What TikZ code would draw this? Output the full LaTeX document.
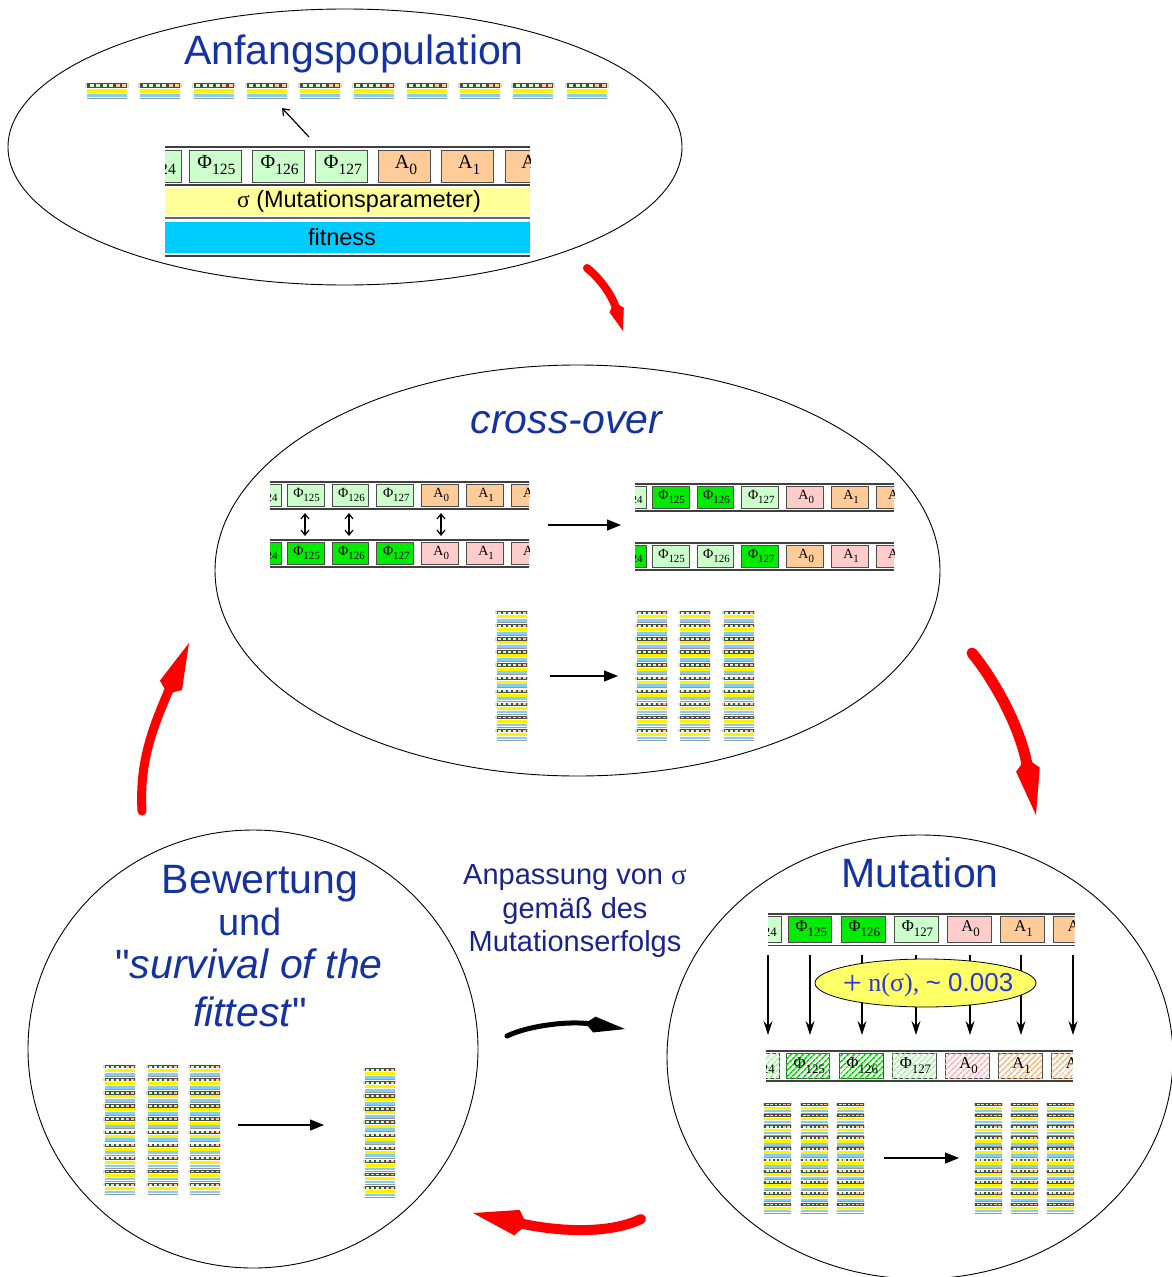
\documentclass[tikz,border=0pt]{standalone}
\usepackage{fontspec}
\setmainfont{Liberation Serif}
\setsansfont{Liberation Sans}
\newfontfamily\qsans{Liberation Sans}[Ligatures=TeXOff]
\usetikzlibrary{arrows.meta, shapes.geometric, patterns.meta}

\definecolor{tblue}{RGB}{20,50,160}
\definecolor{nblue}{RGB}{25,35,140}
\definecolor{sblue}{RGB}{45,55,215}
\definecolor{lgreen}{RGB}{204,255,204}
\definecolor{bgreen}{RGB}{0,235,0}
\definecolor{lpink}{RGB}{255,204,204}
\definecolor{lorange}{RGB}{255,204,153}
\definecolor{sigyel}{RGB}{255,255,153}
\definecolor{fitcyan}{RGB}{0,204,255}
\definecolor{minicyan}{RGB}{130,205,250}
\definecolor{beige}{RGB}{225,220,195}
\definecolor{ovalyel}{RGB}{255,255,102}

% lowered, larger subscript of the gene labels
\newcommand{\gsub}[1]{\raisebox{-0.3em}{\scalebox{0.78}{#1}}}
% label of gene k in a chromosome row
\newcommand{\genlabel}[1]{\ifcase#1\or Φ\gsub{124}\or Φ\gsub{125}\or
  Φ\gsub{126}\or Φ\gsub{127}\or A\gsub{0}\or A\gsub{1}\or A\gsub{2}\fi}

% #1 origin, #2 xscale, #3 yscale, #4 font size, #5 cell styles, #6 row name
\newcommand{\chromrow}[6]{%
  \begin{scope}[shift={(#1)}, xscale=#2, yscale=#3]
    \begin{scope}
      \clip (0,-2) rectangle (365,40);
      \foreach \sty [count=\k] in {#5} {
        \pgfmathsetmacro{\cellx}{63.2*\k-102.4+3.5*(\k==1)}
        \draw[\sty] (\cellx,3) rectangle ++(52,32);
        \node[font=\fontsize{#4}{#4}\selectfont, inner sep=0pt] (#6-\k)
          at (\cellx+27.5,18) {\genlabel{\k}};
      }
    \end{scope}
    \draw[rowline] (0,0) -- (365,0);
    \draw[rowline] (0,38) -- (365,38);
  \end{scope}}

\tikzset{
  cellbox/.style = {draw = black!70, line width = 0.8pt},
  celllg/.style = {cellbox, fill = lgreen},
  cellgr/.style = {cellbox, fill = bgreen},
  cellpk/.style = {cellbox, fill = lpink},
  cellor/.style = {cellbox, fill = lorange},
  hatch/.style = {cellbox, fill = white,
    postaction = {pattern = {Lines[angle=45, distance=4pt, line width=1.6pt]}, pattern color = #1}},
  celllgh/.style = {hatch = green!40},
  cellgrh/.style = {hatch = green!85!black},
  cellpkh/.style = {hatch = red!30},
  cellorh/.style = {hatch = orange!55},
  rowline/.style = {draw = black!75, line width = 1.3pt},
  % small picture of one individual
  minichrom/.pic = {
    \fill[beige] (0,0) rectangle (44,4.5);
    \fill[black!70] (2,0) rectangle (42,4.5);
    \foreach \cx/\cc in {4.5/lgreen, 11/lgreen, 17.5/lgreen, 24/lgreen, 30.5/lorange, 37/lorange}
      \fill[\cc] (\cx,1) rectangle ++(4,2.5);
    \fill[yellow] (2,5.5) rectangle (42,9.5);
    \fill[minicyan] (2,10.5) rectangle (42,14);
    \draw[black!40, line width=0.6pt] (2,15) -- (42,15);
  }
}

\begin{document}
\begin{tikzpicture}[
        x = 1pt, y = -1pt, % pixel grid, y downwards
        stage/.style = {ellipse, draw = black, line width = 0.9pt, inner sep = 0pt},
        title/.style = {font = \sffamily\fontsize{41}{45}\selectfont, text = tblue, anchor = base},
        notes/.style = {font = \sffamily\fontsize{29}{32}\selectfont, text = nblue, anchor = base},
        band/.style = {font = \sffamily\fontsize{23.5}{26}\selectfont},
        thinarrow/.style = {-{Triangle[length=14pt, width=11pt]}, line width = 1.2pt},
        swaparrow/.style = {{Straight Barb[length=5pt, width=8pt]}-{Straight Barb[length=5pt, width=8pt]}, line width = 1.2pt},
        downarrow/.style = {-{Stealth[length=14pt, width=9pt, inset=5pt]}, line width = 1.1pt},
        redloop/.style = {draw = red, line cap = round},
        blackloop/.style = {draw = black, line width = 5pt, line cap = round,
          -{Kite[length=40pt, width=16pt, inset=9pt]}}
    ]
    \useasboundingbox (0,0) rectangle (1172,1277);
    \clip (0,0) rectangle (1172,1277);

    % the four stages
    \node[stage, minimum width=674, minimum height=276] (init) at (345,147) {};
    \node[stage, minimum width=725, minimum height=411] (cross) at (577.5,570.5) {};
    \node[stage, minimum width=450, minimum height=438] (eval) at (253,1049) {};
    \node[stage, minimum width=506, minimum height=444] (mutate) at (920,1057) {};

    % Anfangspopulation
    \node[title] (tinit) at (354,64) {Anfangspopulation};
    \foreach \k in {0,...,9}
        \pic at ({85+53.3*\k},83) {minichrom};
    \coordinate (pick) at (309,137);
    \coordinate (pickto) at (282,108);
    \draw[-{Straight Barb[length=6pt, width=9pt]}, line width=1.2pt] (pick) -- (pickto);

    \chromrow{165,147}{1}{1}{20}{celllg,celllg,celllg,celllg,cellor,cellor,cellor}{big}
    \fill[sigyel] (165,188) rectangle (530,215);
    \draw[black!60, line width=1.2pt] (165,218) -- (530,218);
    \fill[fitcyan] (165,222) rectangle (530,253);
    \draw[black!75, line width=1.2pt] (165,256) -- (530,256);
    \node[band] (sigma) at (359,201) {{\rmfamily σ} (Mutationsparameter)};
    \node[band] (fit) at (342,237) {fitness};

    % cross-over
    \node[title] (tcross) at (567,433) {\textit{cross-over}};
    \chromrow{270,482}{0.71}{0.71}{14}{celllg,celllg,celllg,celllg,cellor,cellor,cellor}{pa}
    \chromrow{270,540}{0.71}{0.71}{14}{cellgr,cellgr,cellgr,cellgr,cellpk,cellpk,cellpk}{pb}
    \chromrow{635,484}{0.71}{0.71}{14}{celllg,cellgr,cellgr,celllg,cellpk,cellor,cellor}{ka}
    \chromrow{635,543}{0.71}{0.71}{14}{cellgr,celllg,celllg,cellgr,cellor,cellpk,cellpk}{kb}
    \foreach \sx [count=\i] in {305,349,441} {
        \coordinate (xa\i) at (\sx,513);
        \coordinate (xb\i) at (\sx,536);
        \draw[swaparrow] (xa\i) -- (xb\i);
    }
    \coordinate (co1) at (548,525);
    \coordinate (co2) at (621,525);
    \draw[thinarrow] (co1) -- (co2);

    \foreach \j in {0,...,9}
        \pic[scale=0.75] at (495,{611+13.1*\j}) {minichrom};
    \foreach \cx in {635,678,722}
        \foreach \j in {0,...,9}
            \pic[scale=0.75] at (\cx,{611+13.1*\j}) {minichrom};
    \coordinate (cs1) at (550,676);
    \coordinate (cs2) at (618,676);
    \draw[thinarrow] (cs1) -- (cs2);

    % Mutation
    \node[title] (tmut) at (920,887) {Mutation};
    \chromrow{768,914}{0.84}{0.82}{16.5}{celllg,cellgr,cellgr,celllg,cellpk,cellor,cellor}{ma}
    \chromrow{766,1051}{0.84}{0.79}{16.5}{celllgh,cellgrh,cellgrh,celllgh,cellpkh,cellorh,cellorh}{mb}
    \foreach \ax [count=\i] in {768,810,862,916,970,1021,1073} {
        \coordinate (mu\i) at (\ax,955);
        \coordinate (md\i) at (\ax,1035);
        \draw[downarrow] (mu\i) -- (md\i);
    }
    \draw[fill = ovalyel, line width = 0.8pt] (925.5,983) ellipse [x radius=110.5, y radius=24];
    \node[text = sblue, font = \fontsize{26}{28}\selectfont, inner sep = 0pt] (noise) at (928,985)
          {\raisebox{-0.12em}{\fontsize{34}{34}\selectfont +} n(σ), {\sffamily\textasciitilde\ 0.003}};

    \foreach \cx in {763,800,836,974,1010,1046}
        \foreach \j in {0,...,9}
            \pic[scale=0.66] at (\cx,{1103+11.1*\j}) {minichrom};
    \coordinate (ms1) at (884,1158);
    \coordinate (ms2) at (959,1158);
    \draw[thinarrow] (ms1) -- (ms2);

    % Bewertung
    \node[title] (teval) at (260,893) {Bewertung};
    \node[title, font = \sffamily\fontsize{38}{40}\selectfont] (tund) at (250,935) {und};
    \node[title] (tsurv) at (249,978) {{\qsans"}\textit{survival of the}};
    \node[title] (tfit) at (250,1026) {\textit{fittest}{\qsans"}};
    \foreach \cx in {103,146,188}
        \foreach \j in {0,...,9}
            \pic[scale=0.75] at (\cx,{1065+13.1*\j}) {minichrom};
    \foreach \j in {0,...,9}
        \pic[scale=0.75] at (363,{1068+13.1*\j}) {minichrom};
    \coordinate (es1) at (238,1125);
    \coordinate (es2) at (324,1125);
    \draw[thinarrow] (es1) -- (es2);

    % adaptation of sigma
    \node[notes] (adapt1) at (575,884) {Anpassung von {\rmfamily σ}};
    \node[notes] (adapt2) at (575,918) {gemäß des};
    \node[notes] (adapt3) at (575,951) {Mutationserfolgs};
    \coordinate (bk1) at (507,1036);
    \coordinate (bk2) at (625,1029);
    \draw[blackloop] (bk1) .. controls (530,1025) and (570,1021) .. (bk2);

    % red cycle arrows
    \coordinate (ra1) at (587,268);
    \coordinate (ra2) at (623,331);
    \draw[redloop, line width=8pt, -{Kite[length=30pt, width=15pt, inset=8pt]}]
        (ra1) .. controls (602,280) and (613,298) .. (ra2);
    \coordinate (rb1) at (972,653);
    \coordinate (rb2) at (1036,815);
    \draw[redloop, line width=11pt, -{Kite[length=58pt, width=24pt, inset=12pt]}]
        (rb1) .. controls (992,677) and (1020,725) .. (rb2);
    \coordinate (rc1) at (641,1219);
    \coordinate (rc2) at (473,1213);
    \draw[redloop, line width=10pt, -{Kite[length=55pt, width=26pt, inset=10pt]}]
        (rc1) .. controls (610,1234) and (560,1232) .. (rc2);
    \coordinate (rd1) at (142,811);
    \coordinate (rd2) at (189,643);
    \draw[redloop, line width=9pt, -{Kite[length=55pt, width=24pt, inset=9pt]}]
        (rd1) .. controls (139,760) and (154,725) .. (rd2);
\end{tikzpicture}
\end{document}
